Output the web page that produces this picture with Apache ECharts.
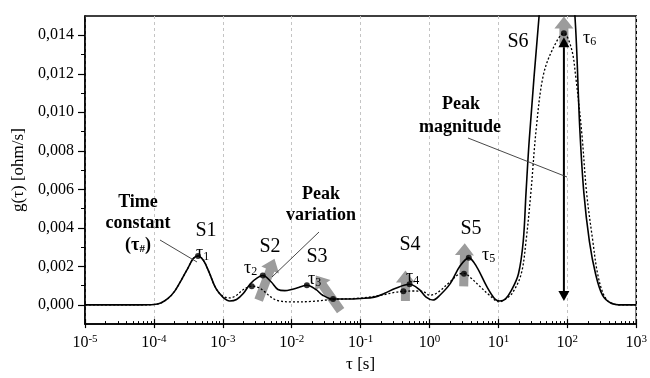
<!DOCTYPE html>
<html><head><meta charset="utf-8">
<script src="https://cdn.jsdelivr.net/npm/echarts@6/dist/echarts.min.js"></script>
<style>html,body{margin:0;padding:0;background:#fff}#c{width:650px;height:378px}</style>
</head><body><div id="c"></div>
<script>
// ---------- data (x values are log10 of tau in seconds) ----------
const xTickExponents = [-5, -4, -3, -2, -1, 0, 1, 2, 3];
const yTickValues = [0, 0.002, 0.004, 0.006, 0.008, 0.010, 0.012, 0.014];
const yMinorTickValues = [0.001, 0.003, 0.005, 0.007, 0.009, 0.011, 0.013];

const solidLogTau = [-5.0, -4.5, -4.2, -4.0, -3.9, -3.8, -3.7, -3.6, -3.5, -3.43, -3.36, -3.28, -3.2, -3.1, -3.0, -2.9, -2.8, -2.7, -2.6, -2.5, -2.42, -2.3, -2.2, -2.1, -2.0, -1.9, -1.78, -1.65, -1.55, -1.4, -1.2, -1.0, -0.8, -0.65, -0.5, -0.29, -0.15, -0.05, 0.05, 0.15, 0.3, 0.44, 0.57, 0.68, 0.83, 0.95, 1.02, 1.1, 1.19, 1.29, 1.36, 1.40, 1.45, 1.59, 1.7, 1.85, 2.0, 2.11, 2.18, 2.24, 2.32, 2.41, 2.51, 2.63, 2.8, 3.0];
const solidG      = [0, 0, 0, 0.00002, 0.0001, 0.00032, 0.0007, 0.0013, 0.00195, 0.0024, 0.00254, 0.0023, 0.0017, 0.00085, 0.0004, 0.0002, 0.00028, 0.0006, 0.0011, 0.0014, 0.00152, 0.0012, 0.0008, 0.00074, 0.0008, 0.0009, 0.00102, 0.0008, 0.0005, 0.0003, 0.0003, 0.00033, 0.0004, 0.0006, 0.00085, 0.00107, 0.0008, 0.0004, 0.00025, 0.0005, 0.0011, 0.002, 0.00244, 0.002, 0.00096, 0.0003, 0.0002, 0.0003, 0.00076, 0.0016, 0.0033, 0.0058, 0.0087, 0.015, 0.019, 0.0225, 0.019, 0.015, 0.0092, 0.0058, 0.0033, 0.0016, 0.0005, 0.0001, 0, 0];

const dottedLogTau = [-5.0, -4.5, -4.2, -4.0, -3.9, -3.8, -3.7, -3.6, -3.5, -3.43, -3.36, -3.28, -3.2, -3.1, -3.0, -2.9, -2.8, -2.7, -2.58, -2.48, -2.4, -2.3, -2.2, -2.0, -1.7, -1.4, -1.0, -0.7, -0.5, -0.38, -0.25, -0.1, 0.0, 0.1, 0.3, 0.42, 0.5, 0.6, 0.73, 0.87, 1.01, 1.1, 1.2, 1.33, 1.40, 1.47, 1.55, 1.65, 1.79, 1.95, 2.06, 2.12, 2.21, 2.28, 2.37, 2.44, 2.53, 2.63, 2.8, 3.0];
const dottedG      = [0, 0, 0, 0.00002, 0.0001, 0.00032, 0.0007, 0.0013, 0.00195, 0.0024, 0.00254, 0.0023, 0.0017, 0.00085, 0.00045, 0.00036, 0.0005, 0.0008, 0.00097, 0.0009, 0.0007, 0.0004, 0.00022, 0.00015, 0.00018, 0.00028, 0.00035, 0.0005, 0.00065, 0.0007, 0.00072, 0.0007, 0.0005, 0.0006, 0.0012, 0.00158, 0.00163, 0.0014, 0.00096, 0.0005, 0.00015, 0.0003, 0.0006, 0.0016, 0.0033, 0.0058, 0.0092, 0.0119, 0.0133, 0.0141, 0.0133, 0.0119, 0.0089, 0.0058, 0.0033, 0.0016, 0.0005, 0.0001, 0, 0];

const solidPeakLogTau = [-3.36, -2.42, -1.78, -1.40, -0.29, 0.57];
const solidPeakG      = [0.00254, 0.00152, 0.00102, 0.0003, 0.00107, 0.00244];
const dottedPeakLogTau = [-2.58, -0.38, 0.50, 1.95];
const dottedPeakG      = [0.00097, 0.0007, 0.00162, 0.0141];

// grey "peak variation" arrows: [fromLogTau, fromG, toLogTau, toG]
const greyArrowFromLogTau = [-2.48, -1.29, -0.35, 0.496, 1.95];
const greyArrowFromG      = [0.00025, -0.0003, 0.0002, 0.00096, 0.01355];
const greyArrowToLogTau   = [-2.25, -1.65, -0.35, 0.511, 1.95];
const greyArrowToG        = [0.00239, 0.00152, 0.00178, 0.0032, 0.01497];
// black "peak magnitude" double arrow
const magArrowLogTau = 1.95;
const magArrowG = [0.0002, 0.0139];

// ---------- chart ----------
const SERIF = "'Liberation Serif', 'DejaVu Serif', serif";
const zip = (a, b) => a.map((v, i) => [v, b[i]]);
const minorX = [];
xTickExponents.slice(0, -1).forEach(n => { for (let k = 2; k <= 9; k++) minorX.push(n + Math.log10(k)); });

function renderGreyArrow(params, api) {
  const p0 = api.coord([api.value(0), api.value(1)]);
  const p1 = api.coord([api.value(2), api.value(3)]);
  const dx = p1[0] - p0[0], dy = p1[1] - p0[1], len = Math.hypot(dx, dy);
  const ux = dx / len, uy = dy / len, nx = -uy, ny = ux;
  const bw = 4.5, hw = 9.5, hl = 12;
  const bx = p1[0] - ux * hl, by = p1[1] - uy * hl;
  const pts = [
    [p0[0] + nx * bw, p0[1] + ny * bw], [bx + nx * bw, by + ny * bw], [bx + nx * hw, by + ny * hw],
    [p1[0], p1[1]], [bx - nx * hw, by - ny * hw], [bx - nx * bw, by - ny * bw], [p0[0] - nx * bw, p0[1] - ny * bw]
  ];
  return { type: 'polygon', shape: { points: pts }, style: { fill: '#9c9c9c' } };
}
function renderMagArrow(params, api) {
  const pb = api.coord([api.value(0), api.value(1)]);
  const pt = api.coord([api.value(0), api.value(2)]);
  const hw = 5.5, hl = 10;
  return { type: 'group', children: [
    { type: 'line', shape: { x1: pb[0], y1: pb[1] - hl, x2: pt[0], y2: pt[1] + hl }, style: { stroke: '#000', lineWidth: 2 } },
    { type: 'polygon', shape: { points: [[pt[0], pt[1]], [pt[0] - hw, pt[1] + hl], [pt[0] + hw, pt[1] + hl]] }, style: { fill: '#000' } },
    { type: 'polygon', shape: { points: [[pb[0], pb[1]], [pb[0] - hw, pb[1] - hl], [pb[0] + hw, pb[1] - hl]] }, style: { fill: '#000' } }
  ]};
}

const txt = (x, y, text, size, bold, align) => ({
  type: 'text', x, y, z: 100,
  style: { text, fill: '#000', font: (bold ? 'bold ' : '') + size + 'px ' + SERIF, align: align || 'center', verticalAlign: 'middle' }
});
const tau = (x, y, sub) => ({
  type: 'text', x, y, z: 100,
  style: { text: '{m|τ}{s|' + sub + '}', align: 'left', verticalAlign: 'middle', fill: '#000',
    rich: { m: { fontSize: 18, fontFamily: SERIF, lineHeight: 20 }, s: { fontSize: 12, fontFamily: SERIF, lineHeight: 12, verticalAlign: 'bottom' } } }
});
const leader = (x1, y1, x2, y2) => ({ type: 'line', z: 100, shape: { x1, y1, x2, y2 }, style: { stroke: '#333', lineWidth: 0.9 } });

const chart = echarts.init(document.getElementById('c'), null, { renderer: 'canvas' });
chart.setOption({
  animation: false,
  backgroundColor: '#fff',
  grid: { left: 85, right: 9, top: 16, bottom: 46, show: true, borderColor: '#000', borderWidth: 1.5, backgroundColor: 'transparent' },
  xAxis: [
    { type: 'value', min: -5, max: 3, interval: 1,
      name: 'τ [s]', nameLocation: 'middle', nameGap: 27,
      nameTextStyle: { fontFamily: SERIF, fontSize: 17, color: '#000' },
      axisLine: { onZero: false, lineStyle: { color: '#000', width: 1.5 } },
      axisTick: { inside: true, length: 5, lineStyle: { color: '#000', width: 1.2 } },
      axisLabel: { margin: 10, color: '#000',
        formatter: v => '{b|10}{p|' + Math.round(v) + '}',
        rich: { b: { fontFamily: SERIF, fontSize: 16, lineHeight: 18 }, p: { fontFamily: SERIF, fontSize: 11, lineHeight: 11, verticalAlign: 'top' } } },
      splitLine: { show: true, lineStyle: { color: '#c4c4c4', width: 1, type: [3, 3] } } },
    { type: 'value', min: -5, max: 3, position: 'bottom',
      axisLine: { show: false, onZero: false }, axisLabel: { show: false }, splitLine: { show: false },
      axisTick: { show: true, inside: true, length: 3, customValues: minorX, lineStyle: { color: '#000', width: 1 } } },
    { type: 'value', min: -5, max: 3, position: 'bottom',
      axisLine: { show: false, onZero: false }, axisLabel: { show: false }, splitLine: { show: false },
      axisTick: { show: true, inside: false, length: 4, customValues: xTickExponents, lineStyle: { color: '#000', width: 1.2 } } }
  ],
  yAxis: [
    { type: 'value', min: -0.001, max: 0.015,
      name: 'g(τ) [ohm/s]', nameLocation: 'middle', nameGap: 56,
      nameTextStyle: { fontFamily: SERIF, fontSize: 17, color: '#000' },
      axisLine: { show: true, onZero: false, lineStyle: { color: '#000', width: 1.5 } },
      axisTick: { show: true, length: 7, customValues: yTickValues, lineStyle: { color: '#000', width: 1.2 } },
      axisLabel: { customValues: yTickValues, margin: 11, color: '#000', fontFamily: SERIF, fontSize: 16,
        formatter: v => v.toFixed(3).replace('.', ',') },
      splitLine: { show: false } },
    { type: 'value', min: -0.001, max: 0.015, position: 'left',
      axisLine: { show: false, onZero: false }, axisLabel: { show: false }, splitLine: { show: false },
      axisTick: { show: true, length: 4, customValues: yMinorTickValues, lineStyle: { color: '#000', width: 1 } } }
  ],
  series: [
    { type: 'custom', name: 'greyArrows', z: 1, renderItem: renderGreyArrow,
      encode: { x: [0, 2], y: [1, 3] },
      data: greyArrowFromLogTau.map((v, i) => [v, greyArrowFromG[i], greyArrowToLogTau[i], greyArrowToG[i]]) },
    { type: 'line', name: 'solid', z: 3, data: zip(solidLogTau, solidG), showSymbol: false, smooth: 0.35,
      lineStyle: { color: '#000', width: 1.6 } },
    { type: 'line', name: 'dotted', z: 3, data: zip(dottedLogTau, dottedG), showSymbol: false, smooth: 0.35,
      lineStyle: { color: '#000', width: 1.3, type: [2, 2] } },
    { type: 'custom', name: 'magArrow', z: 4, renderItem: renderMagArrow,
      encode: { x: 0, y: [1, 2] }, data: [[magArrowLogTau, magArrowG[0], magArrowG[1]]] },
    { type: 'scatter', name: 'solidPeaks', z: 5, data: zip(solidPeakLogTau, solidPeakG), symbolSize: 6, itemStyle: { color: '#000' } },
    { type: 'scatter', name: 'dottedPeaks', z: 5, data: zip(dottedPeakLogTau, dottedPeakG), symbolSize: 6, itemStyle: { color: '#000' } }
  ],
  graphic: [
    txt(138, 202, 'Time', 18, true), txt(138, 223, 'constant', 18, true),
    { type: 'text', x: 138, y: 245, z: 100, style: { text: '{m|(τ}{s|#}{m|)}', align: 'center', verticalAlign: 'middle', fill: '#000',
      rich: { m: { fontSize: 18, fontWeight: 'bold', fontFamily: SERIF, lineHeight: 20 }, s: { fontSize: 11, fontWeight: 'bold', fontFamily: SERIF, lineHeight: 11, verticalAlign: 'bottom' } } } },
    leader(160, 240, 197, 262),
    txt(321, 194, 'Peak', 18, true), txt(321, 215, 'variation', 18, true),
    leader(319, 232, 272, 277),
    txt(461, 104, 'Peak', 18, true), txt(460, 127, 'magnitude', 18, true),
    leader(468, 138, 567, 177),
    txt(206, 231, 'S1', 20), txt(270, 247, 'S2', 20), txt(317, 257, 'S3', 20),
    txt(410, 245, 'S4', 20), txt(471, 229, 'S5', 20), txt(518, 42, 'S6', 20),
    tau(196, 253, '1'), tau(244, 268, '2'), tau(308, 279, '3'), tau(406, 277, '4'), tau(482, 255, '5'), tau(583, 38, '6')
  ]
});
</script></body></html>
